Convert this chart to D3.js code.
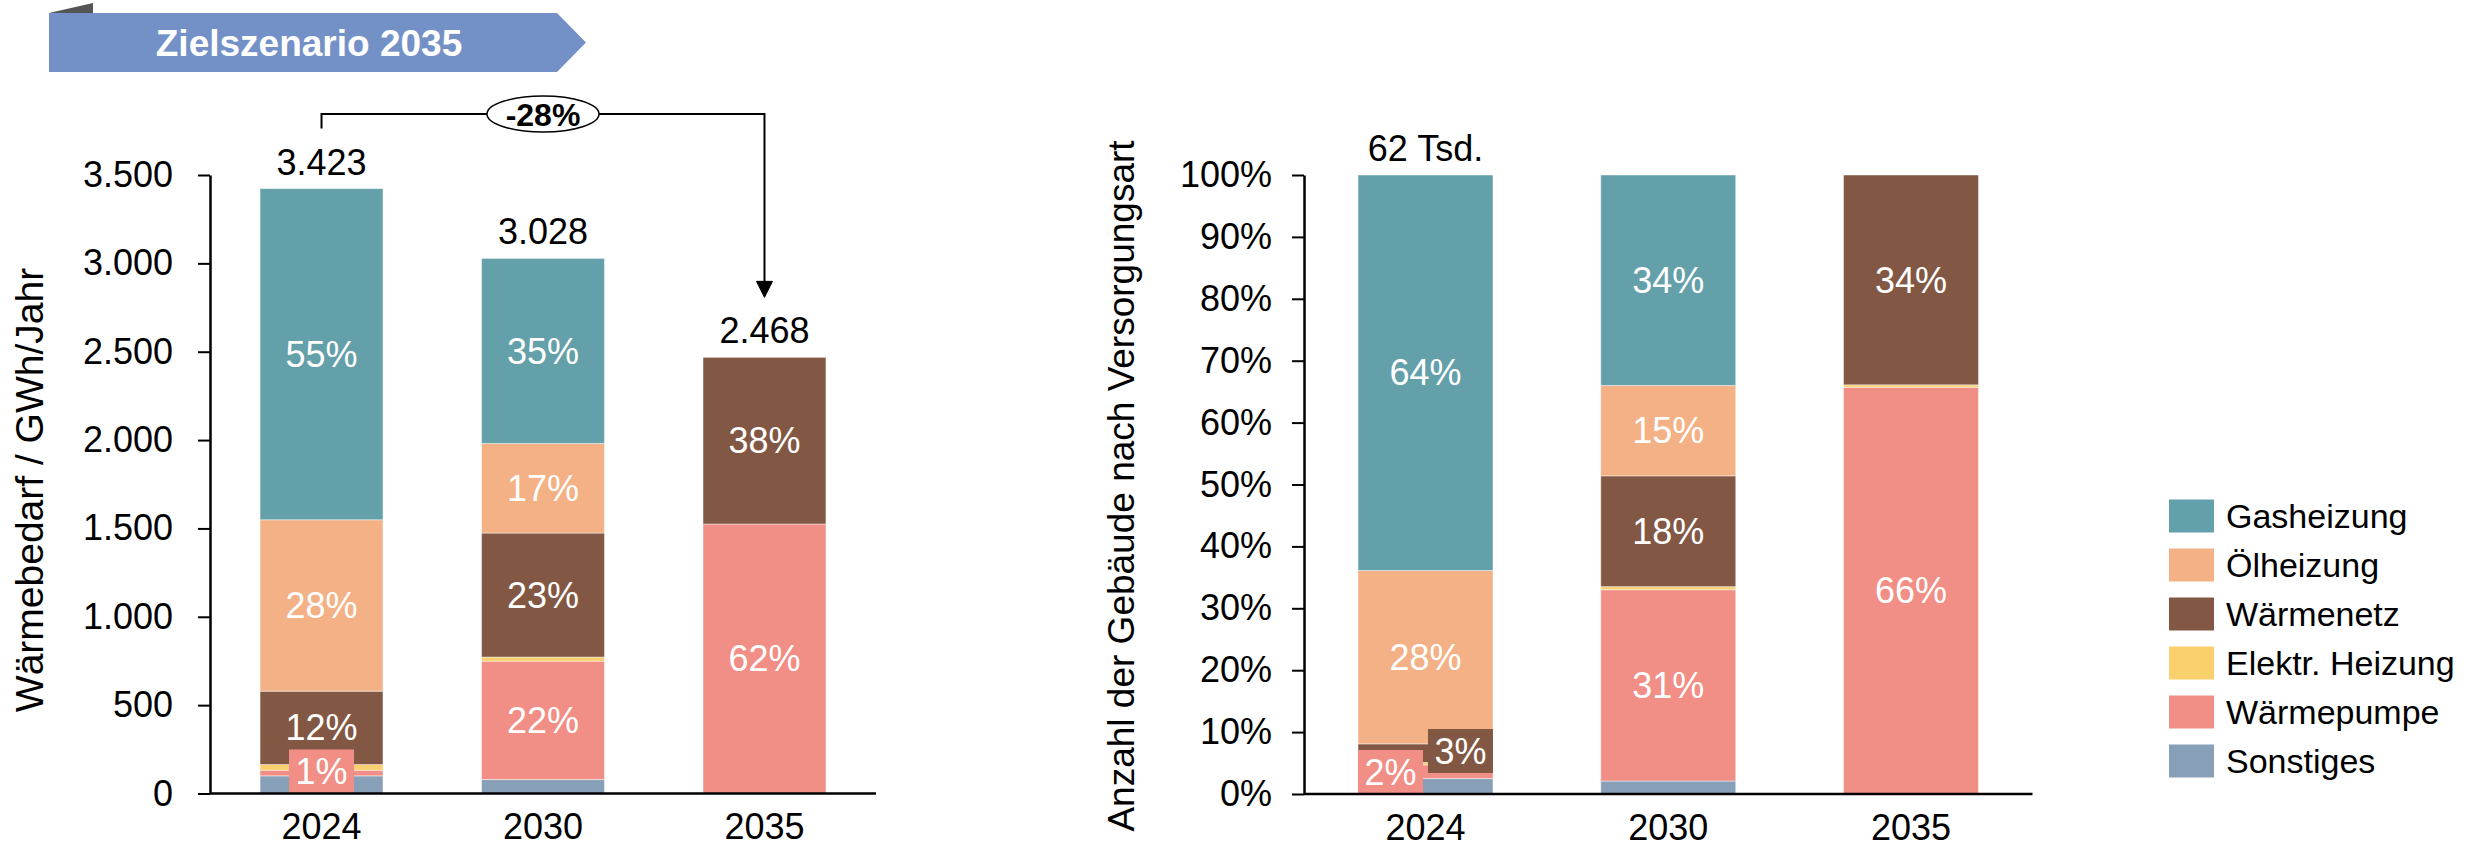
<!DOCTYPE html>
<html lang="de">
<head>
<meta charset="utf-8">
<title>Wärmebedarf und Versorgungsarten – Zielszenario 2035</title>
<script src="https://cdn.jsdelivr.net/npm/d3@7"></script>
<style>
  html, body { margin: 0; padding: 0; background: #ffffff; }
  svg { display: block; font-family: "Liberation Sans", Arial, sans-serif; }
</style>
</head>
<body>
<svg id="chart" width="2470" height="848"></svg>
<script>
// ---- data -------------------------------------------------------------
const years = ["2024", "2030", "2035"];

// stacking order, bottom to top
const seriesNames  = ["Sonstiges", "Wärmepumpe", "Elektr. Heizung", "Wärmenetz", "Ölheizung", "Gasheizung"];
const seriesColors = ["#889fb8", "#f18e86", "#fad06c", "#825844", "#f3b185", "#64a0aa"];

// heat demand in GWh per year
const demandSonstiges  = [100,  79,    0];
const demandWaermepump = [ 32, 670, 1525];
const demandElektr     = [ 32,  23,    0];
const demandWaermenetz = [415, 702,  943];
const demandOel        = [970, 507,    0];
const demandGas        = [1874, 1047,  0];

// share of buildings by supply type in percent
const shareSonstiges  = [ 2.5,  2.1,  0.0];
const shareWaermepump = [ 2.2, 30.9, 65.7];
const shareElektr     = [ 0.4,  0.5,  0.4];
const shareWaermenetz = [ 3.0, 17.9, 33.9];
const shareOel        = [28.0, 14.6,  0.0];
const shareGas        = [63.9, 34.0,  0.0];

const demandTicks = [0, 500, 1000, 1500, 2000, 2500, 3000, 3500];
const shareTicks  = [0, 10, 20, 30, 40, 50, 60, 70, 80, 90, 100];
const buildingCountLabels = ["62 Tsd.", null, null];

const bannerText = "Zielszenario 2035";
const demandTitle = "Wärmebedarf / GWh/Jahr";
const shareTitle  = "Anzahl der Gebäude nach Versorgungsart";

// ---- helpers ----------------------------------------------------------
const de = d3.formatLocale({ decimal: ",", thousands: ".", grouping: [3], currency: ["", " €"] });
const fmtInt = de.format(",d");
const pct = v => Math.round(v) + "%";

function table(cols) {
  return years.map((y, i) => {
    const row = { year: y };
    seriesNames.forEach((s, k) => { row[s] = cols[k][i]; });
    return row;
  });
}

const demandRows = table([demandSonstiges, demandWaermepump, demandElektr, demandWaermenetz, demandOel, demandGas]);
const shareRows  = table([shareSonstiges, shareWaermepump, shareElektr, shareWaermenetz, shareOel, shareGas]);

const color = d3.scaleOrdinal().domain(seriesNames).range(seriesColors);
const stack = d3.stack().keys(seriesNames);

const svg = d3.select("#chart");
const FONT = 36;

// ---- banner -----------------------------------------------------------
const banner = svg.append("g");
banner.append("path")
  .attr("d", "M49,13 L93,3 L93,13 Z")
  .attr("fill", "#555555");
banner.append("path")
  .attr("d", "M49,13 H557 L586,42.5 L557,72 H49 Z")
  .attr("fill", "#7391c7");
banner.append("text")
  .attr("x", 309).attr("y", 56)
  .attr("text-anchor", "middle")
  .attr("fill", "#ffffff")
  .attr("font-weight", "bold")
  .attr("font-size", 37)
  .text(bannerText);

// ---- generic stacked panel -------------------------------------------
function panel(opts) {
  const g = svg.append("g");
  const x = d3.scaleBand().domain(years).range(opts.xRange)
    .paddingInner(opts.padInner).paddingOuter(opts.padOuter);
  const y = d3.scaleLinear().domain(opts.yDomain).range(opts.yRange);
  const series = stack(opts.rows);
  const totals = opts.rows.map(r => d3.sum(seriesNames, s => r[s]));

  // bars
  g.selectAll("g.series").data(series).join("g")
    .attr("class", "series")
    .attr("fill", d => color(d.key))
    .selectAll("rect")
    .data(d => d.map((v, i) => ({ key: d.key, y0: v[0], y1: v[1], year: years[i] })))
    .join("rect")
    .filter(d => d.y1 - d.y0 > 0)
    .attr("x", d => x(d.year))
    .attr("width", x.bandwidth())
    .attr("y", d => y(d.y1))
    .attr("height", d => y(d.y0) - y(d.y1))
    .attr("stroke", "#ffffff")
    .attr("stroke-opacity", 0.45)
    .attr("stroke-width", 1);

  // in-segment share labels
  const labelled = [];
  series.forEach(s => s.forEach((v, i) => {
    const share = (v[1] - v[0]) / totals[i] * 100;
    if (share >= 5) labelled.push({ year: years[i], mid: (v[0] + v[1]) / 2, text: pct(share) });
  }));
  g.selectAll("text.seg").data(labelled).join("text")
    .attr("class", "seg")
    .attr("x", d => x(d.year) + x.bandwidth() / 2)
    .attr("y", d => y(d.mid))
    .attr("dy", "0.35em")
    .attr("text-anchor", "middle")
    .attr("fill", "#ffffff")
    .attr("font-size", FONT)
    .text(d => d.text);

  // boxed callouts for thin segments
  (opts.callouts || []).forEach(c => {
    const i = years.indexOf(c.year);
    const v = opts.rows[i][c.key];
    const w = 65, h = 44;
    const bx = c.align === "left" ? x(c.year)
             : c.align === "right" ? x(c.year) + x.bandwidth() - w
             : x(c.year) + (x.bandwidth() - w) / 2;
    const by = y(0) - h - c.lift;
    g.append("rect").attr("x", bx).attr("y", by).attr("width", w).attr("height", h)
      .attr("fill", color(c.key));
    g.append("text")
      .attr("x", bx + w / 2).attr("y", by + h / 2)
      .attr("dy", "0.36em")
      .attr("text-anchor", "middle")
      .attr("fill", "#ffffff")
      .attr("font-size", FONT)
      .text(pct(v / totals[i] * 100));
  });

  // y axis
  const yAxis = d3.axisLeft(y).tickValues(opts.ticks).tickFormat(opts.tickFormat)
    .tickSize(12).tickSizeOuter(0).tickPadding(opts.tickPad);
  const ya = g.append("g").attr("transform", `translate(${opts.xRange[0]},0)`).call(yAxis);
  ya.select(".domain").attr("stroke", "#000").attr("stroke-width", 2.5);
  ya.selectAll(".tick line").attr("stroke", "#000").attr("stroke-width", 2);
  ya.selectAll(".tick text").attr("font-size", FONT).attr("fill", "#000")
    .attr("font-family", "'Liberation Sans', Arial, sans-serif");

  // x axis
  const xAxis = d3.axisBottom(x).tickSize(0).tickPadding(20);
  const xa = g.append("g").attr("transform", `translate(0,${y(0)})`).call(xAxis);
  xa.select(".domain").attr("d", `M${opts.xRange[0]},0H${opts.xRange[1]}`)
    .attr("stroke", "#000").attr("stroke-width", 2.5);
  xa.selectAll(".tick text").attr("font-size", FONT).attr("fill", "#000")
    .attr("font-family", "'Liberation Sans', Arial, sans-serif");

  // axis title
  g.append("text")
    .attr("transform", `translate(${opts.titleX},${opts.titleY}) rotate(-90)`)
    .attr("text-anchor", "middle")
    .attr("dy", "0.35em")
    .attr("font-size", opts.titleSize)
    .attr("fill", "#000")
    .text(opts.title);

  // labels above bars
  const tops = opts.topLabels(totals);
  g.selectAll("text.top").data(years.map((yr, i) => ({ yr, t: tops[i], v: totals[i] })).filter(d => d.t))
    .join("text")
    .attr("class", "top")
    .attr("x", d => x(d.yr) + x.bandwidth() / 2)
    .attr("y", d => y(d.v) - 14)
    .attr("text-anchor", "middle")
    .attr("fill", "#000")
    .attr("font-size", FONT)
    .text(d => d.t);

  return { x, y, totals };
}

// ---- left: heat demand ------------------------------------------------
const left = panel({
  rows: demandRows,
  xRange: [210, 876], padInner: 0.445, padOuter: 0.226,
  yDomain: [0, 3500], yRange: [793.5, 175],
  ticks: demandTicks, tickFormat: fmtInt, tickPad: 25,
  title: demandTitle, titleX: 29, titleY: 490, titleSize: 39,
  topLabels: t => t.map(fmtInt),
  callouts: [{ year: "2024", key: "Wärmepumpe", align: "center", lift: 0 }]
});

// change bracket between first and last year
(function () {
  const { x, y, totals } = left;
  const x0 = x(years[0]) + x.bandwidth() / 2;
  const x1 = x(years[2]) + x.bandwidth() / 2;
  const yLine = 114;
  const tip = y(totals[2]) - 60;
  const cx = (x(years[1]) + x.bandwidth() / 2);
  const rx = 56, ry = 18;
  const change = totals[2] / totals[0] - 1;
  const g = svg.append("g").attr("stroke", "#000").attr("stroke-width", 2).attr("fill", "none");
  g.append("path").attr("d", `M${x0},${y(totals[0]) - 60} V${yLine} H${cx - rx}`);
  g.append("path").attr("d", `M${cx + rx},${yLine} H${x1} V${tip - 15}`);
  g.append("path").attr("d", `M${x1 - 8},${tip - 16} L${x1 + 8},${tip - 16} L${x1},${tip} Z`)
    .attr("fill", "#000").attr("stroke-width", 1);
  g.append("ellipse").attr("cx", cx).attr("cy", yLine).attr("rx", rx).attr("ry", ry)
    .attr("fill", "#fff").attr("stroke-width", 1.5);
  svg.append("text")
    .attr("x", cx).attr("y", yLine).attr("dy", "0.36em")
    .attr("text-anchor", "middle")
    .attr("font-weight", "bold")
    .attr("font-size", 32)
    .attr("fill", "#000")
    .text((change < 0 ? "-" : "+") + Math.round(Math.abs(change) * 100) + "%");
})();

// ---- right: building shares ------------------------------------------
panel({
  rows: shareRows,
  xRange: [1304, 2032.5], padInner: 0.444, padOuter: 0.2225,
  yDomain: [0, 100], yRange: [794, 175],
  ticks: shareTicks, tickFormat: d => d + "%", tickPad: 20,
  title: shareTitle, titleX: 1121, titleY: 486, titleSize: 37,
  topLabels: () => buildingCountLabels,
  callouts: [
    { year: "2024", key: "Wärmepumpe", align: "left", lift: 0 },
    { year: "2024", key: "Wärmenetz", align: "right", lift: 21 }
  ]
});

// ---- legend -----------------------------------------------------------
const legend = svg.append("g").attr("transform", "translate(2169,516)");
const legendItems = seriesNames.slice().reverse();
const li = legend.selectAll("g").data(legendItems).join("g")
  .attr("transform", (d, i) => `translate(0,${i * 49})`);
li.append("rect").attr("x", 0).attr("y", -16.5).attr("width", 45).attr("height", 33)
  .attr("fill", d => color(d));
li.append("text").attr("x", 57).attr("y", 0).attr("dy", "0.35em")
  .attr("font-size", 34).attr("fill", "#000")
  .text(d => d);
</script>
</body>
</html>
